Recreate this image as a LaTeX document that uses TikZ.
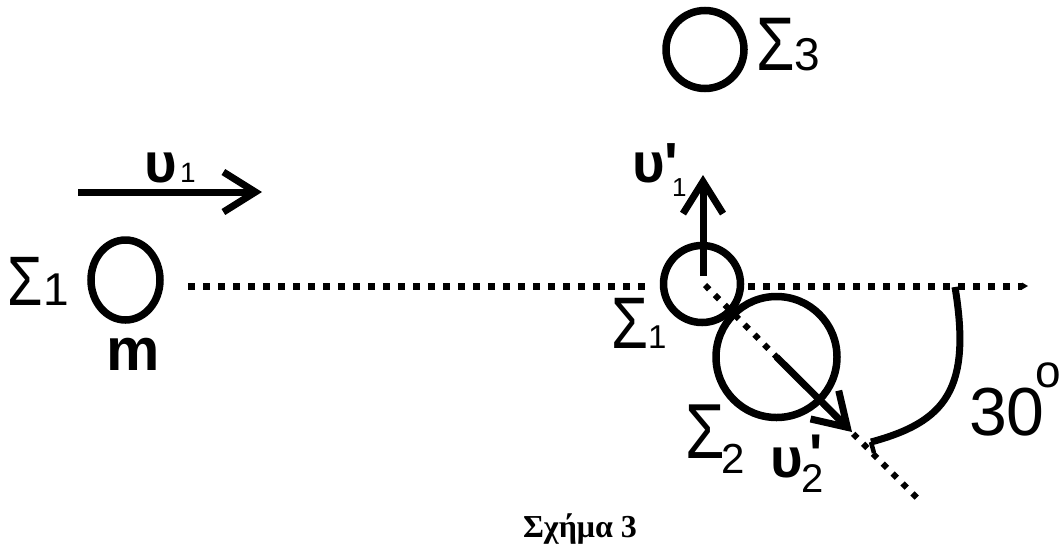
\documentclass[tikz,border=0pt]{standalone}
\usepackage{fontspec}
\newfontfamily\ar{Liberation Sans}
\newfontfamily\tm{Liberation Serif}
\usetikzlibrary{arrows.meta,shapes.geometric}
\newcommand\fsz[1]{\fontsize{#1}{#1}\selectfont}
\newcommand\bigS[1]{\scalebox{0.82}[1]{\fsz{#1}Σ}}
\begin{document}
\begin{tikzpicture}[x=1pt,y=-1pt,
  txt/.style={inner sep=0pt, outer sep=0pt, anchor=base west, font=\ar},
  ball/.style={circle, draw, line width=7.5pt, inner sep=0pt, outer sep=0pt},
  dotline/.style={line width=7pt, dash pattern=on 7pt off 8pt},
  diagdot/.style={line width=6pt, dash pattern=on 6pt off 8pt},
  vec/.style={line width=7pt, -{Straight Barb[length=32pt,width=40pt]}}]
\useasboundingbox (0,0) rectangle (1060,547);

% balls
\node[ellipse, draw, line width=7.5pt, inner sep=0pt, minimum width=69pt, minimum height=80pt] (b1) at (125.5,280) {};
\node[ball, minimum size=77pt] (b1n) at (702,284) {};
\node[ball, minimum size=78pt] (b3) at (705,49.5) {};
\node[ball, minimum size=121pt] (b2) at (776.5,357) {};

% coordinates
\coordinate (hl1) at (188,286);
\coordinate (hl2) at (652,286);
\coordinate (hr1) at (748,286);
\coordinate (hr2) at (1022,286);
\coordinate (dgs) at (705,285);
\coordinate (dge) at (922,503);
\coordinate (u1s) at (78,192);
\coordinate (u1e) at (262,192);
\coordinate (v1s) at (703,276);
\coordinate (v1e) at (703,175);
\coordinate (v2e) at (852,432);
\coordinate (arcs) at (955,287);
\coordinate (arce) at (871,442);
\coordinate (arct) at (874,453);

% dotted lines
\draw[dotline] (hl1) -- (hl2);
\draw[dotline] (hr1) -- (hr2);
\fill (hr2) ++(0,-3.5) -- ++(6,3.5) -- ++(-6,3.5) -- cycle;
\draw[diagdot] (dgs) -- (dge);

% vectors
\draw[vec] (u1s) -- (u1e);
\draw[vec] (v1s) -- (v1e);
\draw[vec] (b2.center) -- (v2e);

% angle arc
\draw[line width=7pt] (arcs) .. controls (972,390) and (945,422) .. (arce);
\draw[line width=4.5pt] (arce) -- (arct);

% labels
\node[txt] (s1l) at (8,305) {\bigS{70}\fsz{46}1};
\node[txt, font=\ar\bfseries] (ml) at (106,370) {\fsz{60}m};
\node[txt, font=\ar\bfseries] (u1l) at (144,182) {\fsz{56}υ};
\node[txt] (u1sub) at (180,182) {\fsz{28}1};

\node[txt, font=\ar\bfseries] (v1l) at (632,182) {\fsz{56}υ};
\node[txt, font=\ar\bfseries] (v1p) at (664,183) {\fsz{58}'};
\node[txt] (v1sub) at (672,196) {\fsz{26}1};

\node[txt] (s1m) at (611,348) {\bigS{73}\fsz{33}1};
\node[txt] (s3) at (756,70) {\bigS{76}\fsz{46}3};
\node[txt] (s2) at (685,458) {\bigS{78}};
\node[txt] (s2sub) at (721,473) {\fsz{42}2};

\node[txt, font=\ar\bfseries] (v2l) at (770,477) {\fsz{56}υ};
\node[txt, font=\ar\bfseries] (v2p) at (809,473) {\fsz{56}'};
\node[txt] (v2sub) at (801,492) {\fsz{40}2};

\node[txt] (ang) at (969,435) {\fsz{68}30};
\node[txt] (deg) at (1035,387) {\fsz{46}o};

\node[inner sep=0pt, anchor=base, font=\tm\bfseries] (cap) at (580,537) {\fsz{32}Σχήμα 3};
\end{tikzpicture}
\end{document}
